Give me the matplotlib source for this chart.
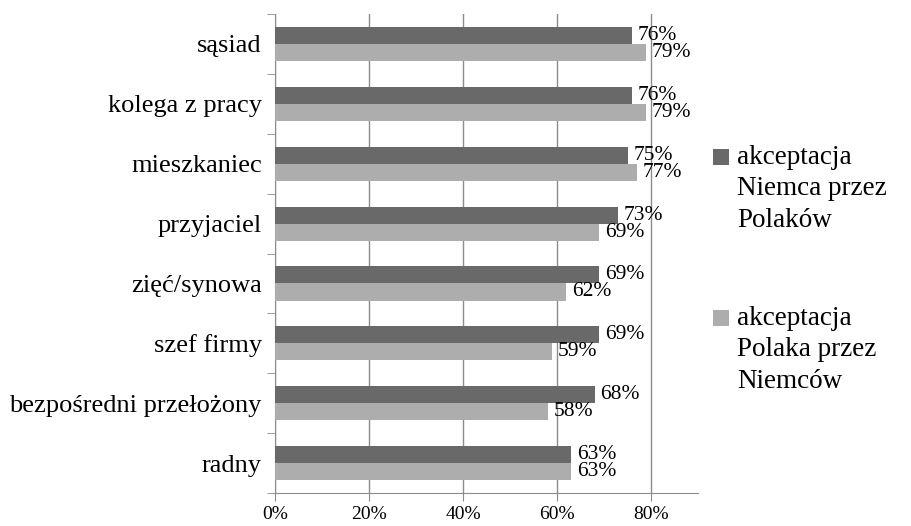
import matplotlib.pyplot as plt
import numpy as np
from matplotlib.patches import Rectangle
from matplotlib.ticker import FuncFormatter

plt.rcParams['font.family'] = ['Liberation Serif', 'DejaVu Serif']

categories = ["sąsiad", "kolega z pracy", "mieszkaniec", "przyjaciel",
              "zięć/synowa", "szef firmy", "bezpośredni przełożony", "radny"]
pl_about_de = [76, 76, 75, 73, 69, 69, 68, 63]
de_about_pl = [79, 79, 77, 69, 62, 59, 58, 63]
series_labels = ["akceptacja\nNiemca przez\nPolaków", "akceptacja\nPolaka przez\nNiemców"]

dark = "#696969"
light = "#adadad"
axis_grey = "#8c8c8c"

fig = plt.figure(figsize=(9.12, 5.26), dpi=100)
ax = fig.add_axes([0.3015, 0.0627, 0.4639, 0.9107])

y = np.arange(len(categories))
h = 0.285
b1 = ax.barh(y - h / 2, pl_about_de, height=h, color=dark, label=series_labels[0], zorder=3)
b2 = ax.barh(y + h / 2, de_about_pl, height=h, color=light, label=series_labels[1], zorder=3)

# value labels just past each bar end
for bars, vals in [(b1, pl_about_de), (b2, de_about_pl)]:
    for rect, v in zip(bars, vals):
        ax.text(v + 1.2, rect.get_y() + rect.get_height() / 2, f"{v}%",
                va="center", ha="left", fontsize=15.5, zorder=4)

ax.set_ylim(len(categories) - 0.5, -0.5)
ax.set_xlim(0, 90)
ax.set_xticks([0, 20, 40, 60, 80])
ax.xaxis.set_major_formatter(FuncFormatter(lambda v, p: f"{v:.0f}%"))
ax.set_yticks(y)
ax.set_yticklabels(categories, fontsize=19)
ax.set_yticks(np.arange(-0.5, len(categories)), minor=True)
ax.tick_params(axis="y", which="major", length=0, pad=9.5)
ax.tick_params(axis="y", which="minor", length=5.5, color=axis_grey)
ax.tick_params(axis="x", length=5.5, color=axis_grey, labelsize=14, pad=4)

ax.grid(axis="x", color=axis_grey, linewidth=1, zorder=0)
for side in ["top", "right"]:
    ax.spines[side].set_visible(False)
for side in ["left", "bottom"]:
    ax.spines[side].set_color(axis_grey)

# legend: colour square beside the first line of each multi-line label
for color, label, sq_y, txt_y in [(dark, series_labels[0], 0.686, 0.725),
                                  (light, series_labels[1], 0.380, 0.419)]:
    fig.add_artist(Rectangle((0.782, sq_y), 0.0175, 0.0304, transform=fig.transFigure,
                             facecolor=color, edgecolor="none"))
    fig.text(0.808, txt_y, label, ha="left", va="top", fontsize=19.5, linespacing=1.36)

fig.savefig("out.png", dpi=100)
